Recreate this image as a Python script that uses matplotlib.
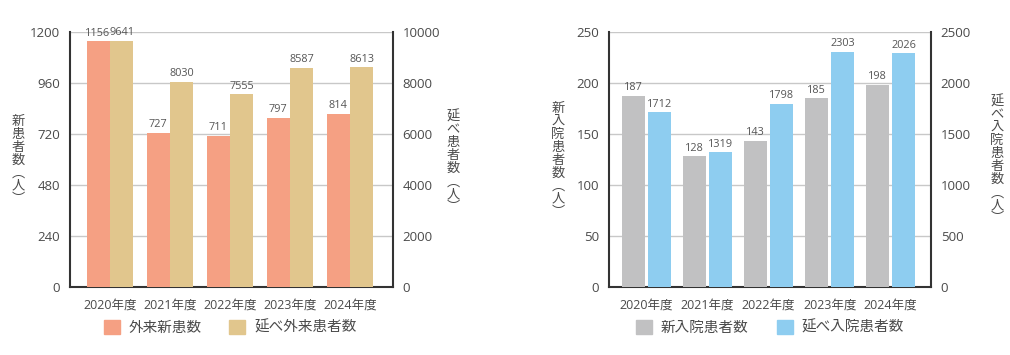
import matplotlib
matplotlib.use("Agg")
import matplotlib.pyplot as plt
from matplotlib.patches import Patch
import numpy as np

plt.rcParams['font.family'] = ['Open Sans', 'Noto Sans CJK JP', 'DejaVu Sans']

years = ["2020年度", "2021年度", "2022年度", "2023年度", "2024年度"]
outpatient_new = [1156, 727, 711, 797, 814]
outpatient_days = [9641, 8030, 7555, 8587, 8613]
inpatient_new = [187, 128, 143, 185, 198]
inpatient_days = [1712, 1319, 1798, 2303, 2290]
inpatient_days_labels = ["1712", "1319", "1798", "2303", "2026"]

c_orange = "#F5A083"
c_tan = "#E1C68D"
c_gray = "#C1C1C2"
c_blue = "#8ECDF0"
txt = "#4A4A4A"
lab = "#555555"
cjk = ['Noto Sans CJK JP', 'DejaVu Sans']

fig = plt.figure(figsize=(10.1, 3.55), dpi=100)

def vlabel(s):
    return "\n".join(s)

def setup(ax, ax2, ylim1, yt1, ylim2, yt2, xl):
    for a in (ax, ax2):
        for sp in a.spines.values():
            sp.set_visible(False)
    ax.spines['left'].set_visible(True)
    ax.spines['bottom'].set_visible(True)
    ax2.spines['right'].set_visible(True)
    for sp in (ax.spines['left'], ax.spines['bottom'], ax2.spines['right']):
        sp.set_color("#333333")
        sp.set_linewidth(1.5)
    ax.set_ylim(*ylim1)
    ax.set_yticks(yt1)
    ax2.set_ylim(*ylim2)
    ax2.set_yticks(yt2)
    ax.set_xlim(*xl)
    ax.set_xticks(range(len(years)))
    ax.set_xticklabels(years)
    ax.tick_params(axis='both', length=0, labelsize=9.5, labelcolor=txt, pad=7)
    ax.tick_params(axis='x', labelsize=9, pad=8)
    ax2.tick_params(axis='y', length=0, labelsize=9.5, labelcolor=txt, pad=7)
    ax.grid(axis='y', color="#C8C8C8", linewidth=1)
    ax.set_axisbelow(True)

x = np.arange(len(years))
vfs = 7.8
vl = dict(ha='center', va='center', fontsize=9.5, color=txt,
          linespacing=1.0, family=cjk)

# Left chart
ax1 = fig.add_axes([70/1010, 1-287/355, 323/1010, 255/355])
ax1b = ax1.twinx()
setup(ax1, ax1b, (0, 1200), [0, 240, 480, 720, 960, 1200],
      (0, 10000), [0, 2000, 4000, 6000, 8000, 10000], (-0.667, 4.717))
w1 = 0.383
b1 = ax1.bar(x - w1/2 - 0.008, outpatient_new, w1, color=c_orange, zorder=3)
b2 = ax1b.bar(x + w1/2 + 0.008, outpatient_days, w1, color=c_tan, zorder=3)
for r, v in zip(b1, outpatient_new):
    ax1.annotate(str(v), (r.get_x() + r.get_width()/2, v), xytext=(0, 2),
                 textcoords='offset points', ha='center', va='bottom',
                 fontsize=vfs, color=lab)
for r, v in zip(b2, outpatient_days):
    ax1b.annotate(str(v), (r.get_x() + r.get_width()/2, v), xytext=(0, 2),
                  textcoords='offset points', ha='center', va='bottom',
                  fontsize=vfs, color=lab)
fig.text(18/1010, 1-160/355, vlabel("新患者数︵人︶"), **vl)
fig.text(453/1010, 1-162/355, vlabel("延べ患者数︵人︶"), **vl)
fig.legend(handles=[Patch(color=c_orange, label="外来新患数"),
                    Patch(color=c_tan, label="延べ外来患者数")],
           loc='center', bbox_to_anchor=(230/1010, 1-328/355), ncol=2,
           frameon=False, fontsize=10.5, labelcolor=txt, handlelength=1.1,
           handleheight=1.1, handletextpad=0.6, columnspacing=1.9)

# Right chart
ax2 = fig.add_axes([609/1010, 1-287/355, 322/1010, 255/355])
ax2b = ax2.twinx()
setup(ax2, ax2b, (0, 250), [0, 50, 100, 150, 200, 250],
      (0, 2500), [0, 500, 1000, 1500, 2000, 2500], (-0.615, 4.66))
w2 = 0.377
b3 = ax2.bar(x - w2/2 - 0.025, inpatient_new, w2, color=c_gray, zorder=3)
b4 = ax2b.bar(x + w2/2 + 0.025, inpatient_days, w2, color=c_blue, zorder=3)
for r, v in zip(b3, inpatient_new):
    ax2.annotate(str(v), (r.get_x() + r.get_width()/2, v), xytext=(0, 2),
                 textcoords='offset points', ha='center', va='bottom',
                 fontsize=vfs, color=lab)
for r, v, s in zip(b4, inpatient_days, inpatient_days_labels):
    ax2b.annotate(s, (r.get_x() + r.get_width()/2, v), xytext=(0, 2),
                  textcoords='offset points', ha='center', va='bottom',
                  fontsize=vfs, color=lab)
fig.text(558/1010, 1-160/355, vlabel("新入院患者数︵人︶"), **vl)
fig.text(997/1010, 1-160/355, vlabel("延べ入院患者数︵人︶"), **vl)
fig.legend(handles=[Patch(color=c_gray, label="新入院患者数"),
                    Patch(color=c_blue, label="延べ入院患者数")],
           loc='center', bbox_to_anchor=(770/1010, 1-328/355), ncol=2,
           frameon=False, fontsize=10.5, labelcolor=txt, handlelength=1.1,
           handleheight=1.1, handletextpad=0.6, columnspacing=1.9)

fig.savefig("out.png", dpi=100)
